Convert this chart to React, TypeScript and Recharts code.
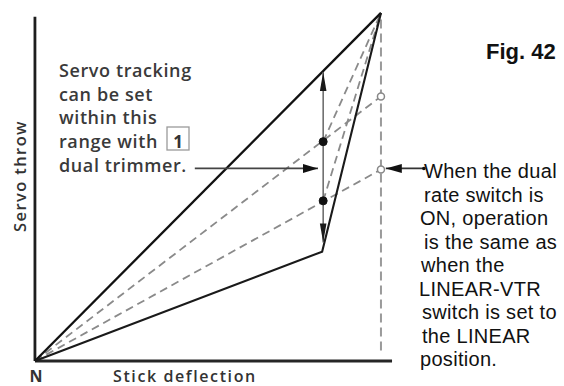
import React from "react";
import { LineChart, Line, XAxis, YAxis, ReferenceDot } from "recharts";

// ---- data (stick deflection % vs servo throw %) ----
const upperLine = [{ x: 0, y: 0 }, { x: 100, y: 100 }];
const lowerLine = [{ x: 0, y: 0 }, { x: 83, y: 31.4 }, { x: 100, y: 100 }];
const dashHigh = [{ x: 0, y: 0 }, { x: 100, y: 76 }];
const dashLow = [{ x: 0, y: 0 }, { x: 100, y: 55 }];
const dashHighToTop = [{ x: 83.3, y: 63 }, { x: 100, y: 100 }];
const dashLowToTop = [{ x: 83.3, y: 46 }, { x: 100, y: 100 }];
const maxLine = [{ x: 100, y: 3 }, { x: 100, y: 100 }];
const xAxisLine = [{ x: 0, y: 0 }, { x: 103.2, y: 0 }];
const yAxisLine = [{ x: 0, y: 0 }, { x: 0, y: 98.9 }];
const rangeArrow = [{ x: 83.3, y: 34 }, { x: 83.3, y: 83 }];
const trimmerArrow = [{ x: 46.2, y: 55.3 }, { x: 81.8, y: 55.3 }];
const switchArrow = [{ x: 112.4, y: 55.3 }, { x: 101.4, y: 55.3 }];
const trackDots = [{ x: 83.3, y: 63 }, { x: 83.3, y: 46 }];
const rateCircles = [{ x: 100, y: 76 }, { x: 100, y: 55 }];

const X_DOMAIN = [-10.1, 152.9];
const Y_DOMAIN = [-7.2, 103.7];

const leftNote = ["Servo tracking", "can be set", "within this", "range with", "dual trimmer."];
const rightNote = [
  "When the dual",
  "rate switch is",
  "ON, operation",
  "is the same as",
  "when the",
  "LINEAR-VTR",
  "switch is set to",
  "the LINEAR",
  "position.",
];
const rightNoteIndent = [3, 3, -1, 3, 0, -2, 1, 1, -1];
const boxedNumber = "1";
const figTitle = "Fig. 42";
const yLabel = "Servo throw";
const xLabel = "Stick deflection";
const originLabel = "N";

type P = { x: number; y: number };

function arrowHeads(series: P[], ends: number[], len: number, half: number, fill: string) {
  return (props: any) => {
    const { cx, cy, index } = props;
    if (!ends.includes(index) || cx == null || cy == null) return <g key={`n${index}`} />;
    const other = series[index === 0 ? 1 : index - 1];
    const cur = series[index];
    let dx = Math.sign(cur.x - other.x);
    let dy = -Math.sign(cur.y - other.y);
    const n = Math.hypot(dx, dy) || 1;
    dx /= n;
    dy /= n;
    const bx = cx - dx * len;
    const by = cy - dy * len;
    const px = -dy * half;
    const py = dx * half;
    return (
      <polygon
        key={`h${index}`}
        points={`${cx},${cy} ${bx + px},${by + py} ${bx - px},${by - py}`}
        fill={fill}
      />
    );
  };
}

const sansL = "'Open Sans', Lato, sans-serif";
const sansR = "'Liberation Sans', Arial, sans-serif";

export default function App() {
  const dash = { stroke: "#8a8a8a", strokeWidth: 1.8, strokeDasharray: "8 5" };
  return (
    <div style={{ position: "absolute", left: 0, top: 0, width: 564, height: 386, background: "#fff" }}>
      <LineChart width={564} height={386} margin={{ top: 0, right: 0, bottom: 0, left: 0 }}>
        <XAxis type="number" dataKey="x" domain={X_DOMAIN} allowDataOverflow hide />
        <YAxis type="number" dataKey="y" domain={Y_DOMAIN} allowDataOverflow hide />

        <Line data={dashHigh} dataKey="y" type="linear" {...dash} dot={false} activeDot={false} isAnimationActive={false} />
        <Line data={dashLow} dataKey="y" type="linear" {...dash} dot={false} activeDot={false} isAnimationActive={false} />
        <Line data={dashHighToTop} dataKey="y" type="linear" {...dash} dot={false} activeDot={false} isAnimationActive={false} />
        <Line data={dashLowToTop} dataKey="y" type="linear" {...dash} dot={false} activeDot={false} isAnimationActive={false} />
        <Line data={maxLine} dataKey="y" type="linear" stroke="#9a9a9a" strokeWidth={2} strokeDasharray="9 5" dot={false} activeDot={false} isAnimationActive={false} />

        <Line data={xAxisLine} dataKey="y" type="linear" stroke="#262626" strokeWidth={3} dot={false} activeDot={false} isAnimationActive={false} />
        <Line data={yAxisLine} dataKey="y" type="linear" stroke="#1e1e1e" strokeWidth={2.8} dot={false} activeDot={false} isAnimationActive={false} />

        <Line data={upperLine} dataKey="y" type="linear" stroke="#111" strokeWidth={2.3} dot={false} activeDot={false} isAnimationActive={false} />
        <Line data={lowerLine} dataKey="y" type="linear" stroke="#1a1a1a" strokeWidth={2.1} dot={false} activeDot={false} isAnimationActive={false} />

        <Line data={rangeArrow} dataKey="y" type="linear" stroke="#666" strokeWidth={1.5} dot={arrowHeads(rangeArrow, [0, 1], 19, 3.3, "#1a1a1a")} activeDot={false} isAnimationActive={false} />
        <Line data={trimmerArrow} dataKey="y" type="linear" stroke="#444" strokeWidth={1.8} dot={arrowHeads(trimmerArrow, [1], 15, 4.5, "#111")} activeDot={false} isAnimationActive={false} />
        <Line data={switchArrow} dataKey="y" type="linear" stroke="#333" strokeWidth={1.8} dot={arrowHeads(switchArrow, [1], 16, 4.5, "#111")} activeDot={false} isAnimationActive={false} />

        {trackDots.map((d, i) => (
          <ReferenceDot key={`td${i}`} x={d.x} y={d.y} r={4} fill="#111" stroke="#111" />
        ))}
        {rateCircles.map((d, i) => (
          <ReferenceDot key={`rc${i}`} x={d.x} y={d.y} r={3.5} fill="#fff" stroke="#888" strokeWidth={1.5} />
        ))}
        <ReferenceDot x={switchArrow[0].x} y={switchArrow[0].y} r={1.8} fill="#111" stroke="none" />

        {leftNote.map((t, i) => (
          <text key={`ln${i}`} x={59} y={77 + i * 23.7} fontFamily={sansL} fontWeight={600} fontSize={18} letterSpacing={0.6} fill="#3a3a3a">
            {t}
          </text>
        ))}
        <rect x={167} y={127} width={22} height={23} fill="none" stroke="#9a9a9a" strokeWidth={1.3} />
        <text x={178} y={148} textAnchor="middle" fontFamily={sansL} fontWeight="bold" fontSize={17} fill="#333">
          {boxedNumber}
        </text>

        {rightNote.map((t, i) => (
          <text key={`rn${i}`} x={421 + rightNoteIndent[i]} y={178 + i * 23.5} fontFamily={sansR} fontSize={20} letterSpacing={0.3} fill="#111">
            {t}
          </text>
        ))}
        <text x={486} y={59} fontFamily={sansR} fontWeight="bold" fontSize={22} fill="#111">
          {figTitle}
        </text>

        <text x={26} y={176} transform="rotate(-90 26 176)" textAnchor="middle" fontFamily={sansL} fontWeight={600} fontSize={16.5} letterSpacing={1.4} fill="#333">
          {yLabel}
        </text>
        <text x={36} y={382} textAnchor="middle" fontFamily={sansL} fontWeight="bold" fontSize={16} fill="#333">
          {originLabel}
        </text>
        <text x={113} y={382} fontFamily={sansL} fontWeight={600} fontSize={16} letterSpacing={1.6} fill="#333">
          {xLabel}
        </text>
      </LineChart>
    </div>
  );
}
